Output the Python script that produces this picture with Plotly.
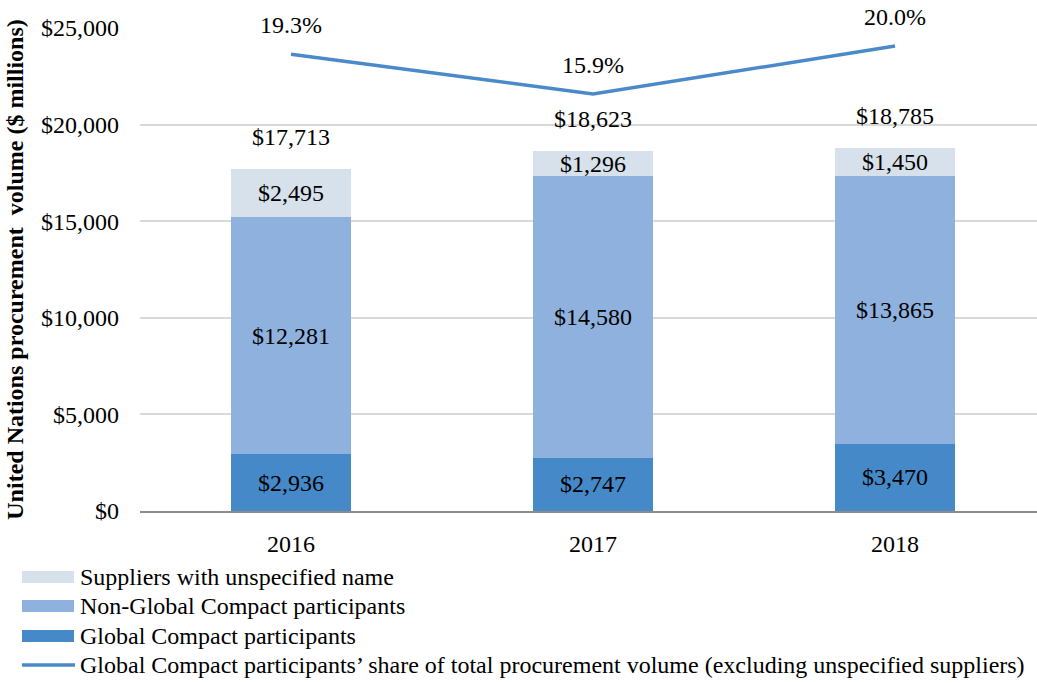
import plotly.graph_objects as go

years = ["2016", "2017", "2018"]
gc = [2936, 2747, 3470]
non_gc = [12281, 14580, 13865]
unspecified = [2495, 1296, 1450]
totals = [17713, 18623, 18785]
share = [0.193, 0.159, 0.200]
share_labels = ["19.3%", "15.9%", "20.0%"]
legend_names = ["Suppliers with unspecified name",
                "Non-Global Compact participants",
                "Global Compact participants",
                "Global Compact participants\u2019 share of total procurement volume (excluding unspecified suppliers)"]

C_GC = "#4589C8"
C_NON = "#8EB1DD"
C_UNS = "#D6E1EB"
C_LINE = "#4A8ACA"
FONT = "Liberation Serif, Times New Roman, serif"
FS = 24

# plot-area geometry in pixels (for paper-coordinate legend placement)
W, H = 1037, 683
ML, MR, MT, MB = 140, 0, 28, 172
PW, PH = W - ML - MR, H - MT - MB

def px_x(p):
    return (p - ML) / PW

def px_y(p):
    return (H - MB - p) / PH

fig = go.Figure()

def money(v):
    return "${:,}".format(v)

for vals, col, nm in [(gc, C_GC, legend_names[2]), (non_gc, C_NON, legend_names[1]),
                      (unspecified, C_UNS, legend_names[0])]:
    fig.add_trace(go.Bar(
        x=years, y=vals, name=nm, marker=dict(color=col, line=dict(width=0)),
        text=[money(v) for v in vals], textposition="inside",
        insidetextanchor="middle", textangle=0,
        textfont=dict(family=FONT, size=FS, color="black"),
        showlegend=False, hoverinfo="skip"))

fig.add_trace(go.Scatter(
    x=years, y=share, yaxis="y2", mode="lines", name=legend_names[3],
    line=dict(color=C_LINE, width=3.5), showlegend=False))

for i, t in enumerate(totals):
    fig.add_annotation(x=i, y=t, text=money(t), showarrow=False,
                       yanchor="middle", yshift=32,
                       font=dict(family=FONT, size=FS, color="black"))
for i, (s, lab) in enumerate(zip(share, share_labels)):
    fig.add_annotation(x=i, y=s, yref="y2", text=lab, showarrow=False,
                       yanchor="middle", yshift=29,
                       font=dict(family=FONT, size=FS, color="black"))

# manual legend (wide swatches as in the original)
leg_rows = [577, 606, 636, 665]
leg_cols = [C_UNS, C_NON, C_GC]
for k, nm in enumerate(legend_names):
    yc = leg_rows[k]
    if k < 3:
        fig.add_shape(type="rect", xref="paper", yref="paper",
                      x0=px_x(22), x1=px_x(74), y0=px_y(yc - 6), y1=px_y(yc + 6),
                      fillcolor=leg_cols[k], line=dict(width=0))
    else:
        fig.add_shape(type="line", xref="paper", yref="paper",
                      x0=px_x(22), x1=px_x(75), y0=px_y(yc), y1=px_y(yc),
                      line=dict(color=C_LINE, width=3.5))
    fig.add_annotation(xref="paper", yref="paper", x=px_x(78), y=px_y(yc),
                       xanchor="left", yanchor="middle", text=nm, showarrow=False,
                       font=dict(family=FONT, size=FS, color="black"))

fig.update_layout(
    width=W, height=H,
    margin=dict(l=ML, r=MR, t=MT, b=MB),
    barmode="stack", bargap=0.6,
    plot_bgcolor="white", paper_bgcolor="white",
    font=dict(family=FONT, size=FS, color="black"),
    uniformtext=dict(minsize=FS, mode="show"),
    showlegend=False,
    xaxis=dict(type="category", range=[-0.5, 2.47], showline=True, linecolor="#8c8c8c",
               linewidth=1.5, showgrid=False, ticks="", automargin=False,
               ticklabelstandoff=10, tickfont=dict(size=FS)),
    yaxis=dict(range=[0, 25000], tickvals=[0, 5000, 10000, 15000, 20000, 25000],
               ticktext=["$0", "$5,000", "$10,000", "$15,000", "$20,000", "$25,000"],
               showgrid=True, gridcolor="#d9d9d9", gridwidth=1.5, zeroline=False,
               ticks="", ticklabelstandoff=20, tickfont=dict(size=FS), automargin=False,
               title=dict(text="<b>United Nations procurement  volume ($ millions)</b>",
                          standoff=10, font=dict(size=24))),
    yaxis2=dict(range=[-0.1974, 0.2154], overlaying="y", visible=False),
)

fig.write_html("out.html", config={"displayModeBar": False},
               post_script="document.body.style.margin='0';document.body.style.overflow='hidden';")
